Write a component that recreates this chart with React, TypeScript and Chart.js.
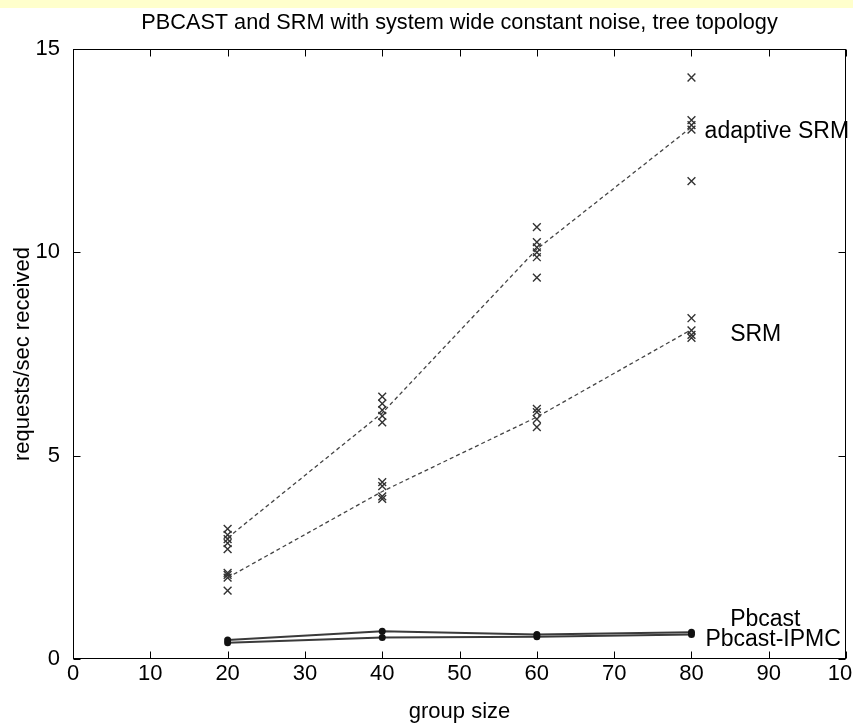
import React, { useEffect, useRef } from "react";
import { Chart, registerables } from "chart.js";

Chart.register(...registerables);

// ---- data ----
const titleText = "PBCAST and SRM with system wide constant noise, tree topology";
const xAxisTitle = "group size";
const yAxisTitle = "requests/sec received";

const groupSizes = [20, 40, 60, 80];

// individual runs (crosses) per group size
const adaptiveSrmRuns = [
  [3.2, 3.05, 2.95, 2.85, 2.7],
  [6.45, 6.28, 6.12, 5.98, 5.82],
  [10.62, 10.25, 10.12, 10.0, 9.88, 9.38],
  [14.3, 13.25, 13.13, 13.02, 11.75],
];
const adaptiveSrmMean = [2.98, 6.05, 10.08, 13.08];

const srmRuns = [
  [2.12, 2.07, 2.0, 1.68],
  [4.35, 4.25, 4.0, 3.94],
  [6.15, 6.07, 5.9, 5.7],
  [8.38, 8.08, 7.97, 7.9],
];
const srmMean = [2.0, 4.12, 5.95, 8.1];

const pbcast = [0.47, 0.68, 0.6, 0.66];
const pbcastIpmc = [0.4, 0.53, 0.55, 0.6];

// curve labels: [text, x, y]
const curveLabels: [string, number, number][] = [
  ["adaptive SRM", 81.7, 12.98],
  ["SRM", 85.0, 7.97],
  ["Pbcast", 85.0, 0.96],
  ["Pbcast-IPMC", 81.8, 0.47],
];

const FONT = '"Liberation Sans", Arial, Helvetica, sans-serif';

const runsToPoints = (runs: number[][]) =>
  runs.flatMap((vals, i) => vals.map((v) => ({ x: groupSizes[i], y: v })));
const seriesToPoints = (vals: number[]) => vals.map((v, i) => ({ x: groupSizes[i], y: v }));

const framePlugin = {
  id: "frame",
  afterDraw(chart: any) {
    const { ctx, chartArea, scales } = chart;
    const { left, right, top, bottom } = chartArea;
    const L = Math.round(left) + 0.5;
    const R = Math.round(right) - 0.5;
    const T = Math.round(top) + 0.5;
    const B = Math.round(bottom) - 0.5;
    ctx.save();
    ctx.strokeStyle = "#000";
    ctx.lineWidth = 1;
    ctx.strokeRect(L, T, R - L, B - T);
    const tl = 7;
    ctx.beginPath();
    scales.x.ticks.forEach((t: any) => {
      const px = Math.round(scales.x.getPixelForValue(t.value)) + 0.5;
      ctx.moveTo(px, B);
      ctx.lineTo(px, B - tl);
      ctx.moveTo(px, T);
      ctx.lineTo(px, T + tl);
    });
    scales.y.ticks.forEach((t: any) => {
      const py = Math.round(scales.y.getPixelForValue(t.value)) + 0.5;
      ctx.moveTo(L, py);
      ctx.lineTo(L + tl, py);
      ctx.moveTo(R, py);
      ctx.lineTo(R - tl, py);
    });
    ctx.stroke();

    // curve labels
    ctx.fillStyle = "#000";
    ctx.font = `23px ${FONT}`;
    ctx.textAlign = "left";
    ctx.textBaseline = "middle";
    curveLabels.forEach(([text, xv, yv]) => {
      ctx.fillText(text, scales.x.getPixelForValue(xv), scales.y.getPixelForValue(yv));
    });
    ctx.restore();
  },
};

export default function App() {
  const ref = useRef<HTMLCanvasElement>(null);

  useEffect(() => {
    const canvas = ref.current;
    if (!canvas) return;
    const crossStyle = {
      showLine: false,
      pointStyle: "crossRot",
      pointRadius: 5.5,
      pointBorderWidth: 1.4,
      borderColor: "#333",
      pointBorderColor: "#333",
      backgroundColor: "#333",
    };
    const dashedLine = {
      showLine: true,
      borderColor: "#444",
      borderWidth: 1.3,
      borderDash: [4, 3],
      pointRadius: 0,
    };
    const solidLine = {
      showLine: true,
      borderColor: "#3a3a3a",
      borderWidth: 2,
      pointStyle: "circle",
      pointRadius: 3.5,
      pointBackgroundColor: "#111",
      pointBorderColor: "#111",
      pointBorderWidth: 0,
    };
    const chart = new Chart(canvas, {
      type: "scatter",
      data: {
        datasets: [
          { label: "adaptive SRM mean", data: seriesToPoints(adaptiveSrmMean), ...dashedLine },
          { label: "SRM mean", data: seriesToPoints(srmMean), ...dashedLine },
          { label: "adaptive SRM", data: runsToPoints(adaptiveSrmRuns), ...crossStyle },
          { label: "SRM", data: runsToPoints(srmRuns), ...crossStyle },
          { label: "Pbcast", data: seriesToPoints(pbcast), ...solidLine },
          { label: "Pbcast-IPMC", data: seriesToPoints(pbcastIpmc), ...solidLine },
        ] as any,
      },
      options: {
        animation: false,
        responsive: false,
        layout: { padding: { left: 0, right: 2, top: 0, bottom: 0 } },
        plugins: {
          legend: { display: false },
          tooltip: { enabled: false },
          title: {
            display: true,
            text: titleText,
            fullSize: false,
            color: "#000",
            font: { family: FONT, size: 21.7, weight: "normal" },
            padding: { top: 10, bottom: 13 },
          },
        },
        scales: {
          x: {
            type: "linear",
            min: 0,
            max: 100,
            ticks: {
              stepSize: 10,
              color: "#000",
              font: { family: FONT, size: 22 },
              padding: 2,
              maxRotation: 0,
              autoSkip: false,
            },
            grid: { display: false, drawTicks: false },
            border: { display: false },
            title: {
              display: true,
              text: xAxisTitle,
              color: "#000",
              font: { family: FONT, size: 22 },
              padding: { top: 0, bottom: 1 },
            },
            afterFit: (s: any) => {
              s.height = 67;
              s.paddingLeft = 0;
              s.paddingRight = 0;
            },
          },
          y: {
            type: "linear",
            min: 0,
            max: 15,
            ticks: {
              stepSize: 5,
              color: "#000",
              font: { family: FONT, size: 22 },
              padding: 13,
            },
            grid: { display: false, drawTicks: false },
            border: { display: false },
            title: {
              display: true,
              text: yAxisTitle,
              color: "#000",
              font: { family: FONT, size: 22 },
              padding: { top: 10, bottom: 0 },
            },
            afterFit: (s: any) => {
              s.width = 73;
              s.paddingTop = 0;
              s.paddingBottom = 0;
            },
          },
        },
      } as any,
      plugins: [framePlugin],
    });
    return () => chart.destroy();
  }, []);

  return (
    <div
      style={{
        position: "fixed",
        left: 0,
        top: 0,
        width: 853,
        height: 726,
        background: "#fff",
        overflow: "hidden",
      }}
    >
      <div
        style={{ position: "absolute", left: 0, top: 0, width: 853, height: 8, background: "#ffffcc" }}
      />
      <canvas
        ref={ref}
        width={853}
        height={726}
        style={{ position: "absolute", left: 0, top: 0, width: 853, height: 726, display: "block" }}
      />
    </div>
  );
}
